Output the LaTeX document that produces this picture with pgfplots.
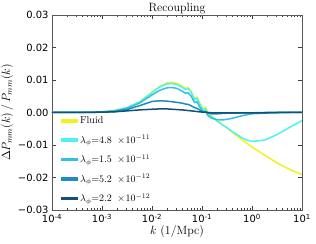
\documentclass[border=0pt]{standalone}
\usepackage{fontspec}
\usepackage{pgfplots}
\pgfplotsset{compat=1.18}
\usepackage{pgfplotstable}
\newfontfamily\dejavu{DejaVu Sans}
\definecolor{cFl}{HTML}{F2F21A}
\definecolor{cA}{HTML}{4FF2F2}
\definecolor{cB}{HTML}{2EC4E0}
\definecolor{cC}{HTML}{1E8CBE}
\definecolor{cD}{HTML}{164E78}
\pgfplotstableread{
k fl a b c d
1e-4 0 0 0 0 0
3.162e-4 0.00002 0.00002 0.00002 0.00001 0.00001
1e-3 0.0002 0.0002 0.0002 0.0001 0.0001
1.778e-3 0.0006 0.0006 0.0005 0.0003 0.0002
3.162e-3 0.0015 0.0015 0.0013 0.0009 0.0005
5.623e-3 0.0033 0.0032 0.0029 0.0021 0.0008
1e-2 0.0063 0.0061 0.0054 0.0034 0.0010
1.413e-2 0.0080 0.0078 0.0068 0.0036 0.0011
1.995e-2 0.0091 0.0088 0.0076 0.0035 0.0011
2.512e-2 0.0093 0.0089 0.0077 0.0033 0.0010
3.162e-2 0.0090 0.0086 0.0074 0.0031 0.0009
3.981e-2 0.0081 0.0078 0.0066 0.0029 0.0008
4.677e-2 0.0074 0.0071 0.0059 0.0026 0.0007
5.248e-2 0.0077 0.0074 0.0061 0.0025 0.0006
6.026e-2 0.0066 0.0063 0.0051 0.0021 0.0005
7.079e-2 0.0043 0.0040 0.0031 0.0015 0.0004
7.943e-2 0.0047 0.0044 0.0033 0.0013 0.0003
8.913e-2 0.0030 0.0027 0.0018 0.0008 0.0002
0.1047 0.0012 0.0008 0.0002 0.0003 0.0001
0.1175 0.0016 0.0011 0.0004 0.0002 0.0001
0.1318 0.0000 -0.0004 -0.0010 -0.0002 0.0000
0.1585 -0.0012 -0.0014 -0.0018 -0.0004 -0.0001
0.1995 -0.0025 -0.0026 -0.0022 -0.0004 -0.0001
0.2512 -0.0036 -0.0037 -0.0023 -0.0003 -0.0001
0.3162 -0.0048 -0.0047 -0.0021 -0.0002 -0.0001
0.3981 -0.0060 -0.0058 -0.0018 -0.0002 -0.0001
0.5012 -0.0072 -0.0068 -0.0014 -0.0002 -0.0001
0.6310 -0.0084 -0.0078 -0.0010 -0.0001 -0.0001
0.7943 -0.0095 -0.0085 -0.0007 -0.0001 -0.0001
1 -0.0106 -0.0089 -0.0004 -0.0001 -0.0001
1.778 -0.0131 -0.0085 -0.0002 0 -0.0001
3.162 -0.0155 -0.0068 -0.0001 0 0
5.623 -0.0175 -0.0046 0 0 0
10 -0.0191 -0.0025 0 0 0
}\datatab
\begin{document}
\begin{tikzpicture}
\begin{axis}[
  name=ax,
  scale only axis,
  width=250bp, height=195bp,
  xmode=log,
  xmin=1e-4, xmax=10,
  ymin=-0.03, ymax=0.03,
  scaled y ticks=false,
  axis line style={black!65},
  tick align=inside,
  major tick length=4bp,
  minor tick length=2bp,
  tick style={black!75},
  xtick={1e-4,1e-3,1e-2,1e-1,1,10},
  xticklabels={10\textsuperscript{-4},10\textsuperscript{-3},10\textsuperscript{-2},10\textsuperscript{-1},10\textsuperscript{0},10\textsuperscript{1}},
  ytick={-0.03,-0.02,-0.01,0,0.01,0.02,0.03},
  yticklabels={−0.03,−0.02,−0.01,0.00,0.01,0.02,0.03},
  ticklabel style={font=\fontsize{10}{12}\selectfont\dejavu},
  xticklabel style={yshift=-0.5bp},
  xlabel={$k$ (1/Mpc)},
  ylabel={$\Delta P_{mm}(k)\,/\,P_{mm}(k)$},
  label style={font=\fontsize{12}{14}\selectfont},
  xlabel style={yshift=4bp},
  ylabel style={yshift=-2bp},
  title={Recoupling},
  title style={font=\fontsize{12}{14}\selectfont, at={(0.5,1)}, anchor=base, yshift=-2bp},
  legend style={draw=none, fill=none, at={(0.03,0.495)}, anchor=north west,
    font=\fontsize{10}{12}\selectfont, row sep=6bp, inner sep=1bp},
  legend cell align=left,
  legend image code/.code={\fill[#1] (0bp,-1bp) rectangle (16bp,1bp);},
  every axis plot/.append style={line width=1.5bp},
]
\addplot[cFl] table[x=k, y=fl] {\datatab};
\addlegendentry{Fluid}
\addplot[cA] table[x=k, y=a] {\datatab};
\addlegendentry{$\lambda_\phi \mathord{=}4.8\ \times\!10^{-11}$}
\addplot[cB] table[x=k, y=b] {\datatab};
\addlegendentry{$\lambda_\phi \mathord{=}1.5\ \times\!10^{-11}$}
\addplot[cC] table[x=k, y=c] {\datatab};
\addlegendentry{$\lambda_\phi \mathord{=}5.2\ \times\!10^{-12}$}
\addplot[cD] table[x=k, y=d] {\datatab};
\addlegendentry{$\lambda_\phi \mathord{=}2.2\ \times\!10^{-12}$}
\end{axis}
\pgfresetboundingbox
\path ([shift={(-52bp,-34bp)}]ax.south west) rectangle ([shift={(14bp,15bp)}]ax.north east);
\end{tikzpicture}
\end{document}
